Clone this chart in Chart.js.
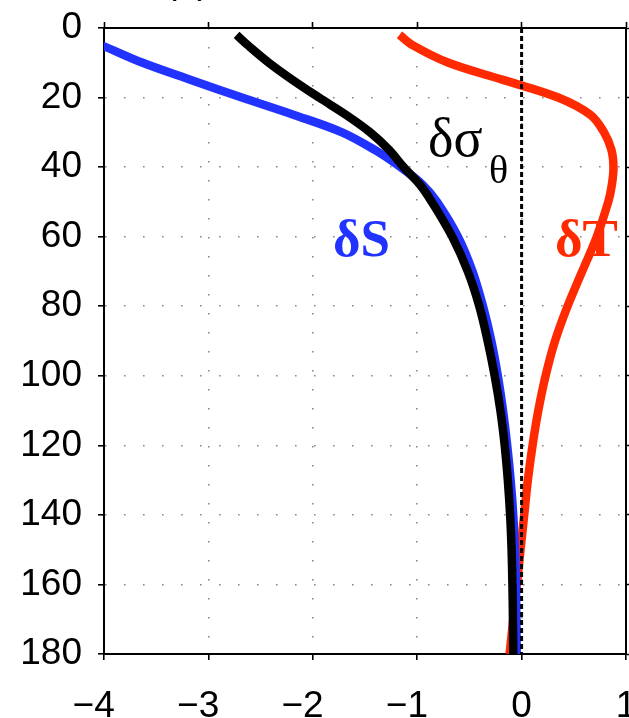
<!DOCTYPE html>
<html>
<head>
<meta charset="utf-8">
<script src="https://cdn.jsdelivr.net/npm/chart.js@4/dist/chart.umd.min.js"></script>
<style>
  html, body { margin: 0; padding: 0; background: #fff; }
  #wrap { width: 629px; height: 718px; }
</style>
</head>
<body>
<div id="wrap"><canvas id="c" width="629" height="718"></canvas></div>
<script>
// Depth levels (m)
const depths = [2, 5, 10, 15, 20, 25, 30, 35, 40, 45, 50, 60, 70, 80, 90, 100, 110, 120, 130, 140, 150, 160, 170, 180];
// δσθ (black)
const dSigma = [-2.73, -2.62, -2.42, -2.19, -1.94, -1.68, -1.45, -1.27, -1.13, -0.975, -0.86, -0.665, -0.515, -0.405, -0.325, -0.258, -0.203, -0.162, -0.132, -0.110, -0.096, -0.088, -0.083, -0.080];
// δS (blue)
const dS = [-4.28, -4.02, -3.63, -3.16, -2.68, -2.18, -1.72, -1.41, -1.16, -0.95, -0.81, -0.61, -0.47, -0.37, -0.29, -0.228, -0.178, -0.138, -0.105, -0.080, -0.064, -0.055, -0.050, -0.047];
// δT (red)
const dT = [-1.17, -1.04, -0.70, -0.17, 0.35, 0.66, 0.79, 0.86, 0.88, 0.865, 0.83, 0.72, 0.58, 0.44, 0.32, 0.23, 0.16, 0.105, 0.06, 0.025, -0.01, -0.045, -0.08, -0.115];
// zero reference line
const zeroX = [0, 0];
const zeroDepth = [0, 180];
// axis ticks
const xTicks = [-4, -3, -2, -1, 0, 1];
const yTicks = [0, 20, 40, 60, 80, 100, 120, 140, 160, 180];

const pts = (xs, ys) => xs.map((v, i) => ({ x: v, y: ys[i] }));

const BLUE = '#2233ff';
const RED = '#ff2a00';

Chart.defaults.font.family = "'Liberation Sans', Arial, Helvetica, sans-serif";
Chart.defaults.color = '#000';

const labelsPlugin = {
  id: 'labels',
  afterDraw(chart) {
    const ctx = chart.ctx;
    ctx.save();
    ctx.textBaseline = 'alphabetic';
    // panel letter (cut off at the top)
    ctx.fillStyle = '#000';
    ctx.font = "37px 'Liberation Sans', Arial, sans-serif";
    ctx.textAlign = 'center';
    ctx.fillText('(a)', 187, -7);
    ctx.textAlign = 'left';
    // δσθ
    ctx.font = "54px 'Liberation Serif', 'Times New Roman', serif";
    ctx.fillText('δσ', 428, 156);
    ctx.font = "40px 'Liberation Serif', 'Times New Roman', serif";
    ctx.fillText('θ', 489, 183);
    // δS
    ctx.fillStyle = BLUE;
    ctx.font = "bold 53px 'Liberation Serif', 'Times New Roman', serif";
    ctx.fillText('δS', 333, 256);
    // δT
    ctx.fillStyle = RED;
    ctx.fillText('δT', 555, 256);
    ctx.restore();
  }
};

const tickFont = { size: 37 };
const LW = 8.5;

new Chart(document.getElementById('c'), {
  type: 'scatter',
  data: {
    datasets: [
      { label: 'zero', data: pts(zeroX, zeroDepth), showLine: true, borderColor: '#000', borderWidth: 3, borderDash: [5, 3], pointRadius: 0, tension: 0 },
      { label: 'δσθ', data: pts(dSigma, depths), showLine: true, borderColor: '#000', borderWidth: LW, pointRadius: 0, tension: 0.35 },
      { label: 'δS', data: pts(dS, depths), showLine: true, borderColor: BLUE, borderWidth: LW, pointRadius: 0, tension: 0.35 },
      { label: 'δT', data: pts(dT, depths), showLine: true, borderColor: RED, borderWidth: LW, pointRadius: 0, tension: 0.35 }
    ]
  },
  options: {
    responsive: false,
    animation: false,
    devicePixelRatio: 1,
    layout: { padding: 0 },
    plugins: { legend: { display: false }, tooltip: { enabled: false }, title: { display: false } },
    scales: {
      x: {
        type: 'linear', position: 'bottom', min: -4, max: 1,
        afterBuildTicks: s => { s.ticks = xTicks.map(v => ({ value: v })); },
        ticks: {
          font: tickFont, color: '#000', padding: 25, maxRotation: 0,
          callback: v => v < 0 ? '\u2212' + Math.abs(v) + '\u2007' : String(v)
        },
        grid: { color: '#8a8a8a', lineWidth: 1.6, drawTicks: true, tickLength: 6, tickColor: '#000', tickWidth: 1.6 },
        border: { display: true, color: '#000', width: 2, dash: [1.6, 17.4] },
        afterFit: s => { s.height = 64; s.paddingLeft = 0; s.paddingRight = 0; }
      },
      x2: {
        type: 'linear', position: 'top', min: -4, max: 1,
        afterBuildTicks: s => { s.ticks = xTicks.map(v => ({ value: v })); },
        ticks: { display: false },
        grid: { drawOnChartArea: false, drawTicks: true, tickLength: 6, tickColor: '#000', tickWidth: 1.6, color: '#000' },
        border: { display: true, color: '#000', width: 2 },
        afterFit: s => { s.height = 28; s.paddingLeft = 0; s.paddingRight = 0; }
      },
      y: {
        type: 'linear', position: 'left', min: 0, max: 180, reverse: true,
        afterBuildTicks: s => { s.ticks = yTicks.map(v => ({ value: v })); },
        ticks: { font: tickFont, color: '#000', padding: 16 },
        grid: { color: '#8a8a8a', lineWidth: 1.6, drawTicks: true, tickLength: 6, tickColor: '#000', tickWidth: 1.6 },
        border: { display: true, color: '#000', width: 2, dash: [1.6, 17.4] },
        afterFit: s => { s.width = 104; s.paddingTop = 0; s.paddingBottom = 0; }
      },
      y2: {
        type: 'linear', position: 'right', min: 0, max: 180, reverse: true,
        afterBuildTicks: s => { s.ticks = yTicks.map(v => ({ value: v })); },
        ticks: { display: false },
        grid: { drawOnChartArea: false, drawTicks: true, tickLength: 6, tickColor: '#000', tickWidth: 1.6, color: '#000' },
        border: { display: true, color: '#000', width: 2 },
        afterFit: s => { s.width = 3; s.paddingTop = 0; s.paddingBottom = 0; }
      }
    }
  },
  plugins: [labelsPlugin]
});
</script>
</body>
</html>
